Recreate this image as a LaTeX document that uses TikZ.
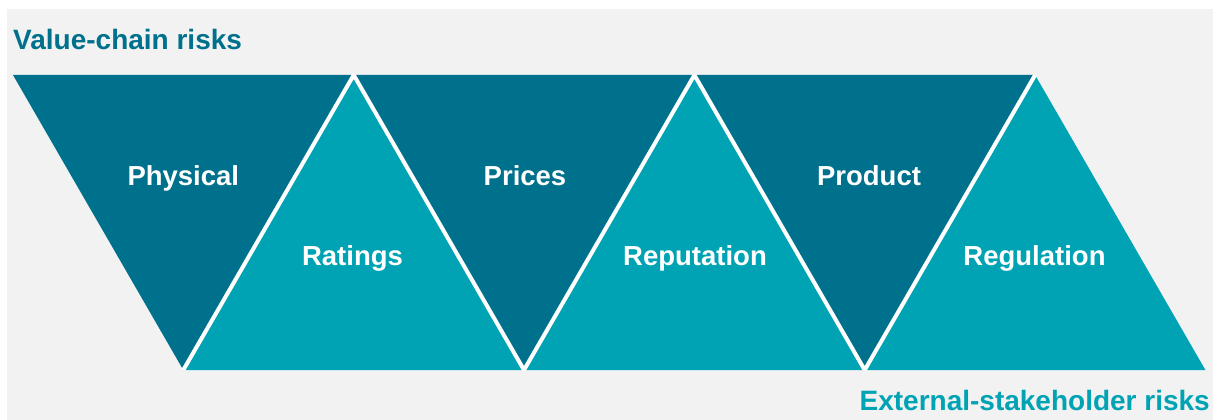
\documentclass[tikz,border=0pt]{standalone}
\usepackage{fontspec}
\setmainfont{Liberation Sans}
\usetikzlibrary{positioning}
\definecolor{darkteal}{HTML}{00718C}
\definecolor{lightteal}{HTML}{00A3B3}
\definecolor{bggray}{HTML}{F2F2F2}
\tikzstyle{downtri} = [fill=darkteal]
\tikzstyle{uptri} = [fill=lightteal]
\tikzstyle{risk} = [text=white, inner sep=0pt, anchor=base, font=\fontsize{27.5}{30}\selectfont\bfseries]
\tikzstyle{heading} = [inner sep=0pt, font=\fontsize{28}{30}\selectfont\bfseries]
\tikzstyle{seam} = [draw=white, line width=4pt]

\begin{document}
\begin{tikzpicture}[x=1pt,y=-1pt]

\useasboundingbox (0,0) rectangle (1213,420);
\fill[white] (0,0) rectangle (1213,420);
\fill[bggray] (7,9) rectangle (1213,420);

% corners of the band
\foreach \i in {0,1,2,3} {
  \coordinate (t\i) at ({13+340.7*\i},75);
  \coordinate (b\i) at ({183.3+340.7*\i},370);
}

% triangles
\fill[downtri] (t0) -- (t1) -- (b0) -- cycle;
\fill[uptri] (b0) -- (t1) -- (b1) -- cycle;
\fill[downtri] (t1) -- (t2) -- (b1) -- cycle;
\fill[uptri] (b1) -- (t2) -- (b2) -- cycle;
\fill[downtri] (t2) -- (t3) -- (b2) -- cycle;
\fill[uptri] (b2) -- (t3) -- (b3) -- cycle;

% white seams
\begin{scope}
\clip (t0) rectangle (b3);
\draw[seam] (b0) -- (t1) -- (b1) -- (t2) -- (b2) -- (t3);
\end{scope}

% labels
\node (physical) [risk] at (183.3,185) {Physical};
\node (prices) [risk] at (525,185) {Prices};
\node (product) [risk] at (869,185) {Product};
\node (ratings) [risk] at (352.5,265) {Ratings};
\node (reputation) [risk] at (695,265) {Reputation};
\node (regulation) [risk] at (1034.5,265) {Regulation};

\node (valuechain) [heading, text=darkteal, anchor=base west] at (13,50) {Value-chain risks};
\node (external) [heading, text=lightteal, anchor=base east] at (1210,410) {External-stakeholder risks};
\end{tikzpicture}
\end{document}
